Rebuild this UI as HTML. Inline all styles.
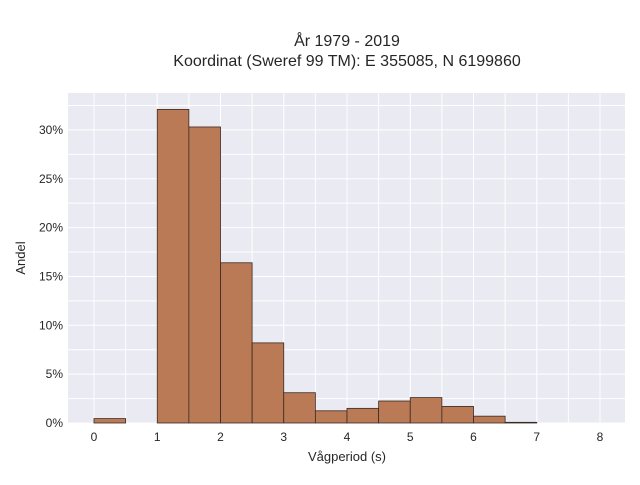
<!DOCTYPE html>
<html><head><meta charset="utf-8"><style>
body{margin:0;background:#fff;font-family:"Liberation Sans",sans-serif;}
</style></head><body>
<svg width="640" height="480" xmlns="http://www.w3.org/2000/svg">
<text x="347" y="46" text-anchor="middle" font-size="16" fill="#262626">År 1979 - 2019</text>
<text x="347" y="66" text-anchor="middle" font-size="16" fill="#262626">Koordinat (Sweref 99 TM): E 355085, N 6199860</text>
<rect x="68" y="93" width="557" height="330" fill="#eaeaf2"/>
<g id="grid"></g><g id="bars"></g><g id="ticks"></g>
<text x="347" y="461" text-anchor="middle" font-size="13" fill="#262626">Vågperiod (s)</text>
<text x="25" y="258" text-anchor="middle" font-size="13" fill="#262626" transform="rotate(-90 25 258)">Andel</text>
</svg>
<script>
const binStarts=[0,0.5,1,1.5,2,2.5,3,3.5,4,4.5,5,5.5,6,6.5];
const shares=[0.45,0,32.1,30.3,16.4,8.2,3.1,1.25,1.5,2.25,2.6,1.7,0.7,0.07];
const binWidth=0.5;
const xTicks=[0,1,2,3,4,5,6,7,8];
const yTicks=[0,5,10,15,20,25,30];
const NS="http://www.w3.org/2000/svg";
const X=v=>94+v*63.25, Y=v=>423-v*9.77;
const grid=document.getElementById('grid'),bars=document.getElementById('bars'),ticks=document.getElementById('ticks');
function mk(tag,attrs,parent){const e=document.createElementNS(NS,tag);for(const k in attrs)e.setAttribute(k,attrs[k]);parent.appendChild(e);return e;}
for(let v=0;v<=8;v+=0.5){const l=mk('line',{x1:X(v),x2:X(v),y1:93,y2:423,stroke:'#fff','stroke-width':1},grid);

}
for(let v=0;v<=32.5;v+=2.5){const l=mk('line',{x1:68,x2:625,y1:Y(v),y2:Y(v),stroke:'#fff','stroke-width':1},grid);

}
binStarts.forEach((s,i)=>{if(shares[i]<=0)return;const r=mk('rect',{x:X(s),y:Y(shares[i]),width:X(s+binWidth)-X(s),height:Y(0)-Y(shares[i]),fill:'#bb7a56',stroke:'#3a2a22','stroke-width':0.8},bars);

});
xTicks.forEach(t=>{const e=mk('text',{x:X(t),y:441,'text-anchor':'middle','font-size':12,fill:'#262626'},ticks);e.textContent=t;

});
yTicks.forEach(t=>{const e=mk('text',{x:63,y:Y(t)+4,'text-anchor':'end','font-size':12,fill:'#262626'},ticks);e.textContent=t+'%';

});
</script>
</body></html>
